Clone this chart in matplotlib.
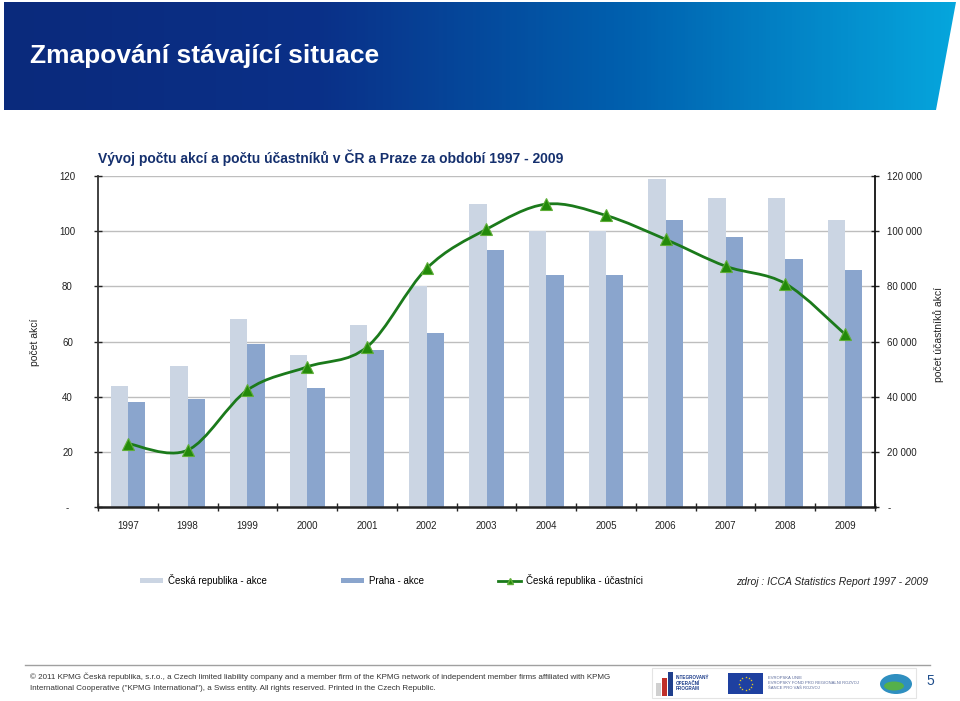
"""Vývoj počtu akcí a účastníků v ČR a Praze 1997-2009 (slide recreation)."""

import matplotlib.pyplot as plt
import numpy as np
from matplotlib.path import Path
from matplotlib.patches import PathPatch, Polygon, Rectangle, Ellipse
from matplotlib.colors import LinearSegmentedColormap
from matplotlib.lines import Line2D
from matplotlib.ticker import FuncFormatter, FixedLocator

plt.rcParams['font.family'] = ['Liberation Sans', 'DejaVu Sans']

# Data
years = ["1997", "1998", "1999", "2000", "2001", "2002", "2003",
         "2004", "2005", "2006", "2007", "2008", "2009"]
cr_akce = [44, 51, 68, 55, 66, 80, 110, 100, 100, 119, 112, 112, 104]
praha_akce = [38, 39, 59, 43, 57, 63, 93, 84, 84, 104, 98, 90, 86]
cr_ucastnici = [23000, 20600, 42400, 50800, 58000, 86500, 100700,
                109800, 105700, 97000, 87300, 81000, 62600]

LIGHT = "#CBD5E3"
DARK = "#8AA5CD"
GREEN = "#1B7A1B"
NAVY = "#15306E"

W, H = 960, 701
fig = plt.figure(figsize=(W / 100, H / 100), dpi=100)
fig.patch.set_facecolor("white")

# Background layer in pixel coordinates (banner, footer)
bg = fig.add_axes([0, 0, 1, 1])
bg.set_xlim(0, W)
bg.set_ylim(H, 0)
bg.axis("off")

banner_cmap = LinearSegmentedColormap.from_list(
    "banner", [(0, "#0A2A7C"), (0.33, "#0A3088"), (0.66, "#0061AF"), (1, "#06A6DD")])
grad = np.linspace(0, 1, 256).reshape(1, -1)
im = bg.imshow(grad, cmap=banner_cmap, extent=(4, 956, 110, 2), aspect="auto", zorder=1)
banner = Polygon([(4, 2), (956, 2), (936, 110), (4, 110)], closed=True,
                 facecolor="none", edgecolor="none")
bg.add_patch(banner)
im.set_clip_path(banner)
bg.text(30, 56, "Zmapování stávající situace", color="white", fontsize=19,
        fontweight="bold", va="center", ha="left", zorder=2)

# Footer
bg.add_line(Line2D([25, 930], [665, 665], color="#A0A0A0", lw=1))
bg.text(30, 677, "© 2011 KPMG Česká republika, s.r.o., a Czech limited liability company and a member "
        "firm of the KPMG network of independent member firms affiliated with KPMG",
        fontsize=5.75, color="#333333", va="center")
bg.text(30, 688, "International Cooperative (\"KPMG International\"), a Swiss entity. "
        "All rights reserved. Printed in the Czech Republic.",
        fontsize=5.75, color="#333333", va="center")
bg.text(926, 681, "5", fontsize=10, color="#1F4E8C", va="center")

# Logos (rough)
bg.add_patch(Rectangle((652, 668), 264, 30, facecolor="none", edgecolor="#E4E4E4", lw=0.8))
bg.add_patch(Rectangle((656, 683), 5, 13, facecolor="#D0D0D0"))
bg.add_patch(Rectangle((662, 678), 5, 18, facecolor="#C0302A"))
bg.add_patch(Rectangle((668, 672), 5, 24, facecolor="#1F3F8C"))
bg.text(676, 683, "INTEGROVANÝ\nOPERAČNÍ\nPROGRAM", fontsize=3.3, color="#1F3F8C",
        fontweight="bold", va="center", linespacing=1.1)
bg.add_patch(Rectangle((728, 673), 35, 21, facecolor="#1E40A0"))
for a in np.linspace(0, 2 * np.pi, 12, endpoint=False):
    bg.plot(745.5 + 6.5 * np.cos(a), 683.5 + 6.5 * np.sin(a), marker="*",
            ms=1.8, color="#F2D21B", mew=0)
bg.text(768, 683, "EVROPSKÁ UNIE\nEVROPSKÝ FOND PRO REGIONÁLNÍ ROZVOJ\nŠANCE PRO VÁŠ ROZVOJ",
        fontsize=3, color="#5A6A9A", va="center", linespacing=1.2)
bg.add_patch(Ellipse((896, 684), 32, 20, facecolor="#2F8FC0", edgecolor="none"))
bg.add_patch(Ellipse((894, 686), 20, 9, facecolor="#55B04A", edgecolor="none"))

# Chart area
ax = fig.add_axes([98 / W, 1 - 507 / H, (875 - 98) / W, (507 - 176) / H])
ax2 = ax.twinx()
x = np.arange(len(years))
bw = 0.29

ax.bar(x - bw / 2, cr_akce, bw, color=LIGHT, zorder=2, label="Česká republika - akce")
ax.bar(x + bw / 2, praha_akce, bw, color=DARK, zorder=2, label="Praha - akce")
ax.set_xlim(-0.5, len(years) - 0.5)
ax.set_ylim(0, 120)
ax.set_yticks(np.arange(0, 121, 20))
ax.yaxis.set_major_formatter(FuncFormatter(lambda v, p: "-" if v == 0 else f"{int(v)}"))
ax.grid(axis="y", color="#BEBEBE", lw=1, zorder=0)
ax.set_axisbelow(True)

# x ticks: marks at category boundaries, labels at centres
ax.xaxis.set_major_locator(FixedLocator(np.arange(-0.5, len(years), 1.0)))
ax.xaxis.set_minor_locator(FixedLocator(x))
ax.set_xticklabels([])
ax.set_xticklabels(years, minor=True)
ax.tick_params(axis="x", which="major", direction="inout", length=6, width=1, colors="#222222")
ax.tick_params(axis="x", which="minor", length=0, pad=10, labelsize=7, labelcolor="#222222")
ax.tick_params(axis="y", direction="inout", length=6, width=1, pad=19,
               labelsize=7, colors="#222222")
for lab in ax.get_yticklabels():
    lab.set_horizontalalignment("center")

ax.spines["top"].set_visible(False)
ax2.spines["top"].set_visible(False)
ax.spines["left"].set_color("#333333")
ax.spines["left"].set_linewidth(1.3)
ax.spines["bottom"].set_color("#222222")
ax.spines["bottom"].set_linewidth(1.8)
ax.spines["right"].set_visible(False)
ax2.spines["left"].set_visible(False)
ax2.spines["bottom"].set_visible(False)
ax2.spines["right"].set_color("#111111")
ax2.spines["right"].set_linewidth(1.3)

ax2.set_ylim(0, 120000)
ax2.set_yticks(np.arange(0, 120001, 20000))
ax2.yaxis.set_major_formatter(FuncFormatter(
    lambda v, p: "-" if v == 0 else f"{int(v):,}".replace(",", " ")))
ax2.tick_params(axis="y", direction="inout", length=6, width=1, pad=6,
                labelsize=7, colors="#222222")

# Smoothed participants line (Catmull-Rom drawn as cubic Bezier)
pts = np.column_stack([x, cr_ucastnici]).astype(float)
ext = np.vstack([pts[0], pts, pts[-1]])
verts = [tuple(pts[0])]
codes = [Path.MOVETO]
for i in range(len(pts) - 1):
    p0, p1, p2, p3 = ext[i], ext[i + 1], ext[i + 2], ext[i + 3]
    verts += [tuple(p1 + (p2 - p0) / 6), tuple(p2 - (p3 - p1) / 6), tuple(p2)]
    codes += [Path.CURVE4] * 3
ax2.add_patch(PathPatch(Path(verts, codes), facecolor="none", edgecolor=GREEN,
                        lw=2, zorder=3))
ax2.plot(x, cr_ucastnici, linestyle="none", marker="^", ms=8,
         mfc="#238A0A", mec="#5FAE38", mew=0.8, zorder=4)

fig.text(35 / W, 1 - 342 / H, "počet akcí", rotation=90, fontsize=7.5,
         color="#222222", ha="center", va="center")
fig.text(939 / W, 1 - 334 / H, "počet účastníků akcí", rotation=90, fontsize=7.5,
         color="#222222", ha="center", va="center")
fig.text(98 / W, 1 - 158 / H,
         "Vývoj počtu akcí a počtu účastníků v ČR a Praze za období 1997 - 2009",
         fontsize=10, fontweight="bold", color=NAVY, va="center", ha="left")

# Legend
handles = [
    Rectangle((0, 0), 1, 1, facecolor=LIGHT, edgecolor="none"),
    Rectangle((0, 0), 1, 1, facecolor=DARK, edgecolor="none"),
    Line2D([], [], color=GREEN, lw=2, marker="^", ms=4, mfc="#238A0A", mec="#5FAE38"),
]
fig.legend(handles, ["Česká republika - akce", "Praha - akce", "Česká republika - účastníci"],
           loc="center left", bbox_to_anchor=(140 / W, 1 - 580 / H), ncol=3,
           frameon=False, fontsize=7, handlelength=2.4, handleheight=0.5,
           handletextpad=0.5, columnspacing=7.6, borderpad=0, borderaxespad=0)
fig.text(736 / W, 1 - 582 / H, "zdroj : ICCA Statistics Report 1997 - 2009",
         fontsize=7.5, style="italic", color="#222222", va="center", ha="left")

fig.savefig("out.png", dpi=100, facecolor=fig.get_facecolor())
